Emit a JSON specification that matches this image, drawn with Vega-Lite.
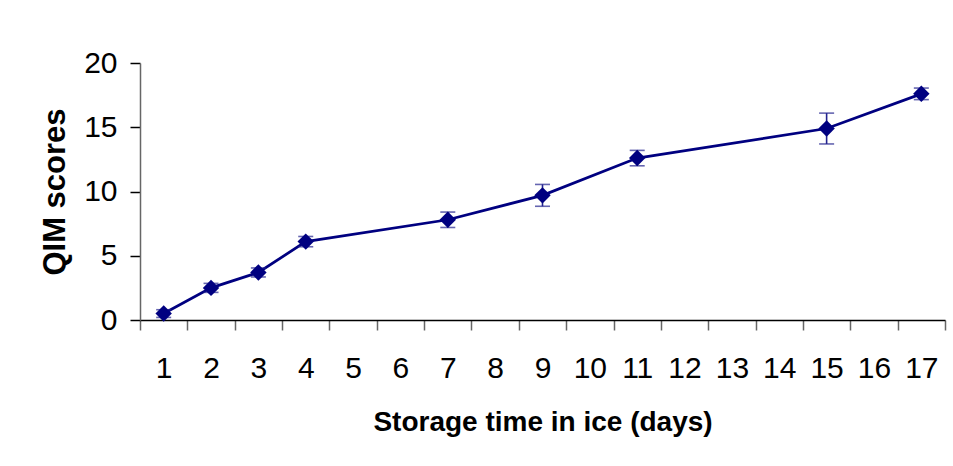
{
  "$schema": "https://vega.github.io/schema/vega-lite/v6.json",
  "width": 805,
  "height": 257,
  "autosize": {"type": "none"},
  "padding": {"left": 140, "top": 63, "right": 8, "bottom": 146},
  "background": "white",
  "config": {
    "font": "Liberation Sans",
    "view": {"stroke": null},
    "axis": {"grid": false, "labelColor": "#000", "titleColor": "#000", "labelFont": "Liberation Sans", "titleFont": "Liberation Sans"}
  },
  "data": {
    "values": [
      {"day": 1, "qim": 0.5, "lo": 0.2, "hi": 0.8},
      {"day": 2, "qim": 2.5, "lo": 2.15, "hi": 2.85},
      {"day": 3, "qim": 3.7, "lo": 3.35, "hi": 4.05},
      {"day": 4, "qim": 6.1, "lo": 5.7, "hi": 6.5},
      {"day": 7, "qim": 7.8, "lo": 7.2, "hi": 8.4},
      {"day": 9, "qim": 9.7, "lo": 8.85, "hi": 10.55},
      {"day": 11, "qim": 12.6, "lo": 12.0, "hi": 13.2},
      {"day": 15, "qim": 14.9, "lo": 13.7, "hi": 16.1},
      {"day": 17, "qim": 17.6, "lo": 17.15, "hi": 18.05}
    ]
  },
  "encoding": {
    "x": {
      "field": "day",
      "type": "ordinal",
      "scale": {"type": "band", "domain": [1,2,3,4,5,6,7,8,9,10,11,12,13,14,15,16,17], "paddingInner": 0, "paddingOuter": 0},
      "axis": {
        "title": "Storage time in ice (days)",
        "titleFontSize": 28,
        "titleFontWeight": "bold",
        "titlePadding": 25,
        "labelFontSize": 30,
        "labelFontWeight": "normal",
        "labelAngle": 0,
        "labelPadding": 23,
        "tickSize": 10,
        "tickColor": "#666",
        "tickWidth": 1.5,
        "tickBand": "extent",
        "tickExtra": true,
        "domainColor": "#000",
        "domainWidth": 1.5
      }
    }
  },
  "layer": [
    {
      "mark": {"type": "line", "color": "#000080", "strokeWidth": 2.75},
      "encoding": {
        "y": {
          "field": "qim",
          "type": "quantitative",
          "title": "QIM scores",
          "scale": {"domain": [0, 20], "nice": false},
          "axis": {
            "titleFontSize": 31,
            "titleFontWeight": "bold",
            "titlePadding": 12,
            "values": [0, 5, 10, 15, 20],
            "labelFontSize": 30,
            "labelPadding": 13,
            "tickSize": 10,
            "tickColor": "#000",
            "tickWidth": 1.5,
            "domainColor": "#666",
            "domainWidth": 1.5
          }
        }
      }
    },
    {
      "mark": {"type": "errorbar", "color": "#23238f", "thickness": 1.6, "ticks": {"size": 15, "thickness": 1.6}},
      "encoding": {
        "y": {"field": "lo", "type": "quantitative", "title": "QIM scores"},
        "y2": {"field": "hi"}
      }
    },
    {
      "mark": {"type": "point", "shape": "diamond", "filled": true, "color": "#000080", "size": 270, "opacity": 1},
      "encoding": {
        "y": {"field": "qim", "type": "quantitative", "title": "QIM scores"}
      }
    }
  ]
}
